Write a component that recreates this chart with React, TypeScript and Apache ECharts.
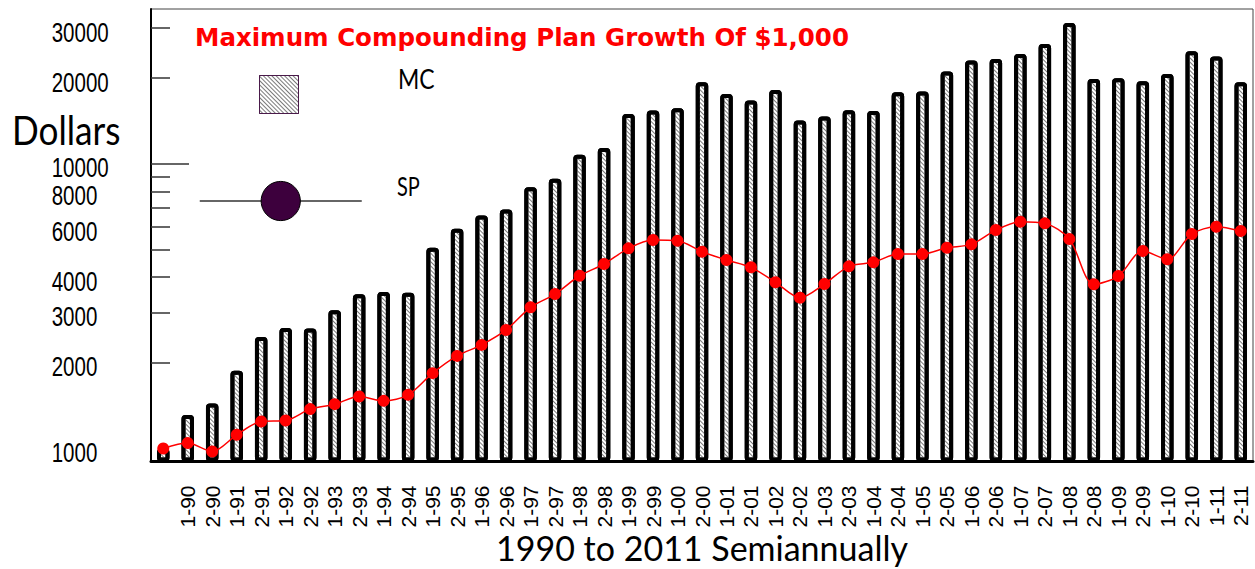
import React, { useEffect, useRef } from "react";
import * as echarts from "echarts";

const categories = [
  "", "1-90", "2-90", "1-91", "2-91", "1-92", "2-92", "1-93", "2-93", "1-94", "2-94",
  "1-95", "2-95", "1-96", "2-96", "1-97", "2-97", "1-98", "2-98", "1-99", "2-99",
  "1-00", "2-00", "1-01", "2-01", "1-02", "2-02", "1-03", "2-03", "1-04", "2-04",
  "1-05", "2-05", "1-06", "2-06", "1-07", "2-07", "1-08", "2-08", "1-09", "2-09",
  "1-10", "2-10", "1-11", "2-11",
];

const mcValues = [
  1000, 1310, 1438, 1874, 2465, 2652, 2637, 3059, 3482, 3546, 3526,
  5073, 5915, 6591, 6918, 8283, 8858, 10755, 11378, 14976, 15393,
  15690, 19350, 17605, 16690, 18180, 14200, 14670, 15430, 15345, 17850,
  17950, 21100, 23060, 23360, 24320, 26370, 31240, 19870, 19980, 19510,
  20700, 24860, 23820, 19350,
];

const spValues = [
  1000, 1045, 976, 1117, 1244, 1254, 1375, 1431, 1522, 1470, 1543,
  1839, 2115, 2312, 2609, 3134, 3489, 4044, 4447, 5049, 5399,
  5368, 4912, 4594, 4330, 3836, 3387, 3784, 4365, 4508, 4822,
  4822, 5073, 5214, 5853, 6259, 6179, 5443, 3775, 4036, 4940,
  4620, 5667, 6010, 5806,
];

const yLabelValues = [1000, 2000, 3000, 4000, 6000, 8000, 10000, 20000, 30000];
const yMinorTickValues = [2000, 3000, 4000, 5000, 6000, 7000, 8000, 9000, 20000, 30000];
const yMajorTickValues = [10000];

const AXIS_MIN = 900;
const AXIS_MAX = 35000;

const toAxis = (v: number) => Math.log10(v / AXIS_MIN);

export default function App() {
  const ref = useRef<HTMLDivElement>(null);

  useEffect(() => {
    if (!ref.current) return;
    const chart = echarts.init(ref.current, null, { renderer: "svg" });
    const yMax = toAxis(AXIS_MAX);

    const hatch = {
      symbol: "rect",
      symbolSize: 1,
      dashArrayX: [1, 0],
      dashArrayY: [1, 2],
      rotation: Math.PI / 4,
      color: "#7a7a7a",
      backgroundColor: "#ffffff",
    };

    const staticGraphics: any[] = [
      {
        type: "text",
        id: "dollars",
        x: 12,
        y: 130,
        scaleX: 0.88,
        style: {
          text: "Dollars",
          fontFamily: "Lato",
          fontSize: 40,
          fill: "#000",
          align: "left",
          verticalAlign: "middle",
        },
      },
      {
        type: "text",
        id: "mcText",
        x: 398,
        y: 78,
        scaleX: 0.85,
        style: {
          text: "MC",
          fontFamily: "Lato",
          fontSize: 27,
          fill: "#000",
          align: "left",
          verticalAlign: "middle",
        },
      },
      {
        type: "text",
        id: "spText",
        x: 397,
        y: 186,
        scaleX: 0.74,
        style: {
          text: "SP",
          fontFamily: "Lato",
          fontSize: 27,
          fill: "#000",
          align: "left",
          verticalAlign: "middle",
        },
      },
    ];

    chart.setOption({
      animation: false,
      backgroundColor: "#ffffff",
      title: {
        text: "Maximum Compounding Plan Growth Of $1,000",
        left: 195,
        top: 25,
        padding: 0,
        textStyle: {
          color: "#ff0000",
          fontFamily: "DejaVu Sans",
          fontWeight: "bold",
          fontSize: 24.5,
        },
      },
      legend: [
        {
          data: [
            {
              name: "MC",
              icon: "rect",
              itemStyle: { borderColor: "#4a1a4a", borderWidth: 1 },
            },
          ],
          left: 259,
          top: 75,
          padding: 0,
          itemWidth: 39,
          itemHeight: 38,
          selectedMode: false,
          formatter: () => "",
          textStyle: { fontSize: 1 },
        },
        {
          data: [
            {
              name: "SP",
              itemStyle: { color: "#3d003d", borderColor: "#000", borderWidth: 1 },
              lineStyle: { color: "#333", width: 1.5 },
            },
          ],
          left: 199,
          top: 176.5,
          padding: 0,
          itemWidth: 162,
          itemHeight: 49,
          selectedMode: false,
          formatter: () => "",
          textStyle: { fontSize: 1 },
        },
      ],
      graphic: staticGraphics,
      grid: {
        left: 151,
        right: 2,
        top: 9,
        bottom: 107.5,
        outerBoundsMode: "none",
        containLabel: false,
        show: true,
        borderColor: "#444",
        borderWidth: 1,
        backgroundColor: "transparent",
      },
      xAxis: {
        type: "category",
        data: categories,
        boundaryGap: true,
        axisLine: { show: true, lineStyle: { color: "#000", width: 3 } },
        axisTick: { show: false },
        axisLabel: {
          interval: 0,
          rotate: 90,
          margin: 24,
          fontFamily: "Liberation Sans",
          fontSize: 21,
          color: "#000",
        },
        name: "1990 to 2011 Semiannually",
        nameLocation: "middle",
        nameGap: 69,
        nameMoveOverlap: false,
        nameTextStyle: { fontFamily: "Lato", fontSize: 34, color: "#000" },
      },
      yAxis: [
        {
          type: "value",
          min: 0,
          max: yMax,
          splitLine: { show: false },
          axisLine: { show: true, lineStyle: { color: "#000", width: 2 } },
          axisTick: {
            show: true,
            inside: true,
            length: 19,
            customValues: yMinorTickValues.map(toAxis),
            lineStyle: { color: "#333", width: 1.5 },
          },
          axisLabel: { show: false },
        },
        {
          type: "value",
          min: 0,
          max: yMax,
          position: "left",
          splitLine: { show: false },
          axisLine: { show: false },
          axisLabel: { show: false },
          axisTick: {
            show: true,
            inside: true,
            length: 38,
            customValues: yMajorTickValues.map(toAxis),
            lineStyle: { color: "#333", width: 1.5 },
          },
        },
      ],
      series: [
        {
          name: "MC",
          type: "bar",
          data: mcValues.map(toAxis),
          barWidth: 12.5,
          itemStyle: {
            color: "#ffffff",
            borderColor: "#000",
            borderWidth: 4,
            borderRadius: 2,
            decal: hatch,
          },
          z: 2,
        },
        {
          name: "SP",
          type: "line",
          data: spValues.map(toAxis),
          smooth: 0.3,
          symbol: "circle",
          symbolSize: 12,
          lineStyle: { color: "#ff0000", width: 1.5 },
          itemStyle: { color: "#ff0000" },
          z: 3,
        },
      ],
    });

    // Y tick labels, placed through the value axis's own scale
    const yLabelGraphics = yLabelValues.map((v, i) => ({
      type: "text",
      id: "ylab" + i,
      x: 51.7,
      y: (chart.convertToPixel({ yAxisIndex: 0 }, toAxis(v)) as number) + 4,
      scaleX: 0.76,
      style: {
        text: String(v),
        fontFamily: "Liberation Sans",
        fontSize: 27,
        fill: "#000",
        align: "left",
        verticalAlign: "middle",
      },
    }));
    chart.setOption({ graphic: [...staticGraphics, ...yLabelGraphics] });

    return () => chart.dispose();
  }, []);

  return (
    <div
      ref={ref}
      style={{ position: "fixed", left: 0, top: 0, width: 1255, height: 569 }}
    />
  );
}
